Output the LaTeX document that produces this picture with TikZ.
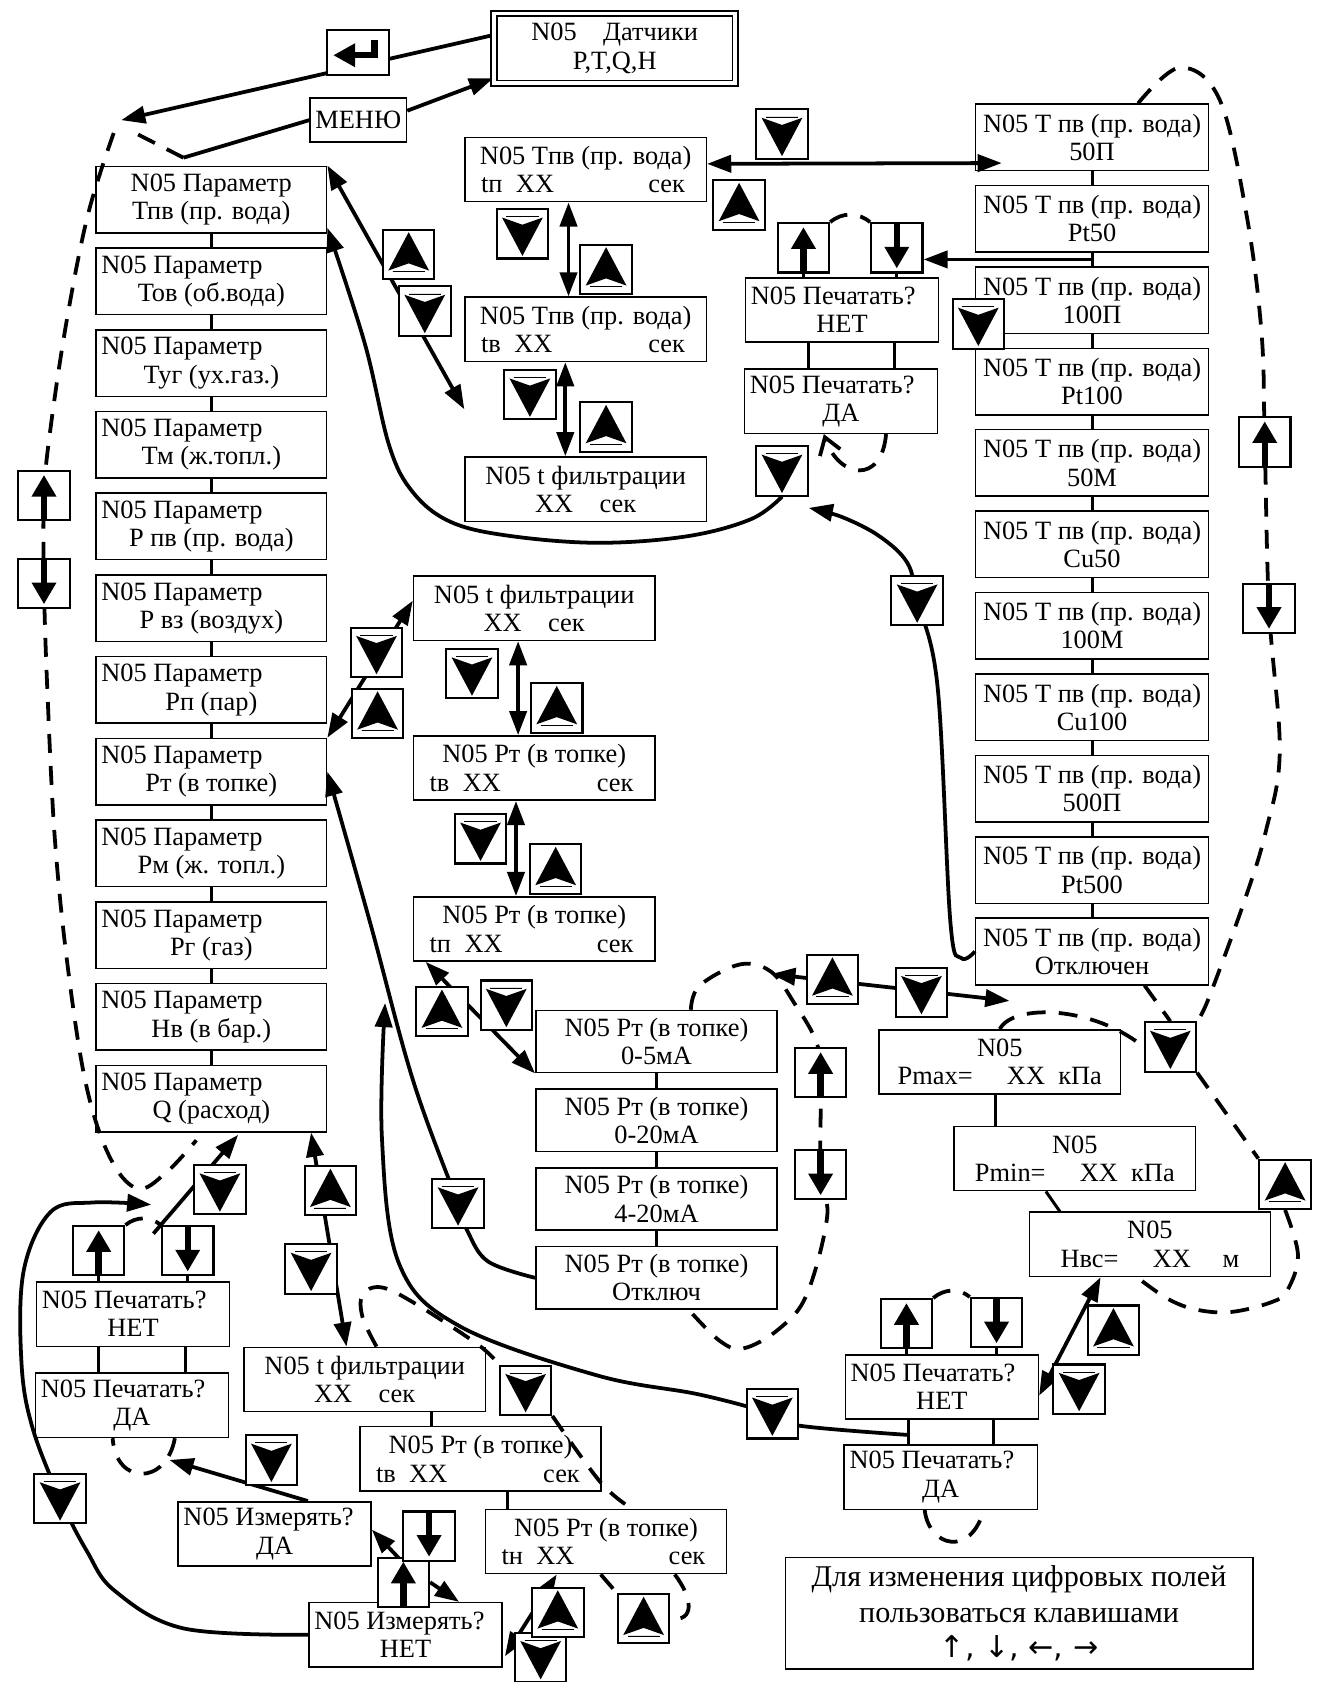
\documentclass[tikz,border=0pt]{standalone}
\usepackage{fontspec}
\setmainfont{Liberation Serif}
\newfontfamily\symfont{DejaVu Sans}
\usetikzlibrary{arrows.meta,backgrounds,calc}

\newcommand\scrfont{\fontsize{14}{15}\selectfont}
\newcommand\parline[1]{\makebox[4.1cm][l]{N05 Параметр}\\#1}
\newcommand\secline[1]{\makebox[4.3cm]{\hspace*{0.2cm}#1\hspace{0.25cm}XX\hfill сек\hspace*{0.3cm}}}
\newcommand\askline[2]{\makebox[3.4cm][l]{N05 #1}\\#2}

\tikzset{
  scrn/.style={draw, line width=0.8pt, align=center, font=\scrfont, inner xsep=0.1cm, inner ysep=2pt},
  sbox/.style={scrn, minimum width=4.5cm, minimum height=1.2cm},
  pbox/.style={scrn, minimum width=4.3cm, minimum height=1.24cm},
  tbox/.style={scrn, minimum width=4.34cm, minimum height=1.24cm},
  prn/.style={scrn, minimum width=3.6cm, minimum height=1.2cm},
  kbox/.style={draw, line width=1.1pt, fill=white, minimum width=0.96cm, minimum height=0.92cm, inner sep=0pt},
  glyph/.style={shift={(path picture bounding box.center)}, draw=black, fill=black},
  kdn/.style={kbox, path picture={
      \fill[glyph] (-0.34cm,0.27cm) -- (0cm,0.15cm) -- (0.34cm,0.27cm) -- (0cm,-0.37cm) -- cycle;
      \draw[glyph, line width=0.4pt] (-0.3cm,0.32cm) -- (0.3cm,0.32cm);}},
  kup/.style={kbox, path picture={
      \fill[glyph] (-0.34cm,-0.27cm) -- (0cm,-0.15cm) -- (0.34cm,-0.27cm) -- (0cm,0.37cm) -- cycle;
      \draw[glyph, line width=0.4pt] (-0.3cm,-0.32cm) -- (0.3cm,-0.32cm);}},
  kua/.style={kbox, path picture={
      \draw[glyph, line width=3.4pt] (0cm,-0.5cm) -- (0cm,0cm);
      \fill[glyph] (-0.2cm,0cm) -- (0.2cm,0cm) -- (0cm,0.34cm) -- cycle;}},
  kda/.style={kbox, path picture={
      \draw[glyph, line width=3.4pt] (0cm,0.5cm) -- (0cm,0cm);
      \fill[glyph] (-0.2cm,0cm) -- (0.2cm,0cm) -- (0cm,-0.34cm) -- cycle;}},
  kent/.style={kbox, minimum width=1.16cm, minimum height=0.84cm, path picture={
      \draw[glyph, fill=none, line width=3.4pt] (0.3cm,0.24cm) -- (0.3cm,-0.05cm) -- (-0.1cm,-0.05cm);
      \fill[glyph] (-0.08cm,0.14cm) -- (-0.08cm,-0.24cm) -- (-0.42cm,-0.05cm) -- cycle;}},
  conn/.style={line width=2pt},
  arr/.style={conn, -{Triangle[length=4.5mm,width=3.2mm]}},
  darr/.style={conn, {Triangle[length=4.5mm,width=3.2mm]}-{Triangle[length=4.5mm,width=3.2mm]}},
  stub/.style={line width=1.6pt},
  dloop/.style={line width=2pt, dash pattern=on 10pt off 7pt}
}

\begin{document}
\begin{tikzpicture}[x=0.02cm, y=-0.02cm]
\useasboundingbox (0,0) rectangle (1233,1568);

\node[scrn, double, double distance=2pt, line width=0.9pt, minimum width=4.5cm, minimum height=1.3cm] (dat) at (573,45) {N05\quad Датчики\\P,T,Q,H};
\node[scrn, minimum width=1.76cm, minimum height=0.82cm] (menu) at (334,112) {МЕНЮ};
\node[kent] (ret) at (334,49) {};

\node[pbox] (p1) at (197,186) {N05 Параметр\\Тпв (пр. вода)};
\foreach \txt [count=\i from 2] in {{Тов (об.вода)},{Туг (ух.газ.)},{Тм (ж.топл.)},{Р пв (пр. вода)},{Р вз (воздух)},{Рп (пар)},{Рт (в топке)},{Рм (ж. топл.)},{Рг (газ)},{Нв (в бар.)},{Q (расход)}}
  \node[pbox] (p\i) at (197,{186+76.2*(\i-1)}) {\parline{\txt}};

\foreach \txt [count=\i] in {50П,Pt50,100П,Pt100,50М,Cu50,100М,Cu100,500П,Pt500,Отключен}
  \node[tbox] (t\i) at (1018,{128+75.9*(\i-1)}) {N05 Т пв (пр. вода)\\\txt};

\foreach \txt [count=\i] in {0-5мА,0-20мА,4-20мА,Отключ}
  \node[sbox, minimum height=1.16cm] (r\i) at (612,{971+73.4*(\i-1)}) {N05 Рт (в топке)\\\txt};

\node[sbox] (tA) at (546,158) {N05 Tпв (пр. вода)\\\secline{tп}};
\node[sbox] (tB) at (546,307) {N05 Tпв (пр. вода)\\\secline{tв}};
\node[sbox] (tF) at (546,456) {N05 t фильтрации\\XX\quad сек};
\node[sbox] (pF) at (498,567) {N05 t фильтрации\\XX\quad сек};
\node[sbox] (pB) at (498,716) {N05 Рт (в топке)\\\secline{tв}};
\node[sbox] (pA) at (498,866) {N05 Рт (в топке)\\\secline{tп}};
\node[sbox] (bF) at (340,1286) {N05 t фильтрации\\XX\quad сек};
\node[sbox] (bB) at (448,1360) {N05 Рт (в топке)\\\secline{tв}};
\node[sbox] (bA) at (565,1437) {N05 Рт (в топке)\\\secline{tн}};

\node[sbox] (pmax) at (932,990) {N05\\Pmax=\hspace{1.3em}XX\enspace кПа};
\node[sbox] (pmin) at (1002,1080) {N05\\Pmin=\hspace{1.3em}XX\enspace кПа};
\node[sbox] (hvc) at (1072,1160) {N05\\Нвс=\hspace{1.3em}XX\hspace{1.2em}м};

\node[prn] (pn1) at (785,289) {\askline{Печатать?}{НЕТ}};
\node[prn] (pd1) at (784,374) {\askline{Печатать?}{ДА}};
\node[prn] (pn2) at (124,1225) {\askline{Печатать?}{НЕТ}};
\node[prn] (pd2) at (123,1310) {\askline{Печатать?}{ДА}};
\node[prn] (pn3) at (878,1293) {\askline{Печатать?}{НЕТ}};
\node[prn] (pd3) at (877,1377) {\askline{Печатать?}{ДА}};
\node[prn] (im1) at (256,1430) {\askline{Измерять?}{ДА}};
\node[prn] (im2) at (378,1524) {\askline{Измерять?}{НЕТ}};

\node[scrn, minimum width=8.72cm, minimum height=2.08cm, font={\fontsize{16}{19}\selectfont}] (note) at (950,1504)
  {Для изменения цифровых полей\\пользоваться клавишами\\{\symfont ↑, ↓, ←, →}};

\foreach \nm/\x/\y in {kT1/729/125, kT3/487/218, kT5/494/368, kT8/396/290, kT9/912/302, kT10/729/439, kT11/855/560,
    kP1/351/608, kP3/440/628, kP5/448/782, kP8/472/937, kP10/859/925, kP11/1091/976, kP14/1006/1295, kP15/720/1318,
    kP16/427/1122, kB2/290/1183, kB3/205/1109, kB4/56/1397, kB5/253/1361, kB6/490/1296, kB9/504/1545}
  \node[kdn] (\nm) at (\x,\y) {};
\foreach \nm/\x/\y in {kT2/689/191, kT4/565/251, kT6/565/398, kT7/381/237, kP2/352/665, kP4/519/660, kP6/518/810,
    kP7/412/943, kP9/776/913, kP12/1198/1104, kP13/1038/1240, kB1/308/1110, kB7/520/1503, kB8/600/1509}
  \node[kup] (\nm) at (\x,\y) {};
\foreach \nm/\x/\y in {kTu/749/231, kRu/1179/412, kPu/765/1000, kPu2/845/1234, kBu/92/1166, kBu2/376/1475, kLu/41/462}
  \node[kua] (\nm) at (\x,\y) {};
\foreach \nm/\x/\y in {kTd/836/231, kRd/1183/567, kPd/765/1095, kPd2/929/1233, kBd/175/1166, kBd2/400/1432, kLd/41/544}
  \node[kda] (\nm) at (\x,\y) {};

\coordinate (apex) at (113,112);
\coordinate (mn) at (171,147);
\coordinate (g23) at ($(t2.south)!0.5!(t3.north)$);
\coordinate (jA) at (359,935);
\coordinate (jb1) at (141,1123);
\coordinate (jb2) at (143,1150);
\coordinate (jb3) at ([shift={(-31,14)}]pn3.south);
\coordinate (lq) at (719,908);
\coordinate (rq) at (941,933);
\coordinate (uq) at (158,1361);

\begin{pgfonlayer}{background}
\fill[white] (0,0) rectangle (1233,1568);
\draw[arr] ([yshift=7pt]dat.west) -- (apex);
\draw[conn] (mn) -- (menu.west);
\draw[arr] ([yshift=5pt]menu.east) -- ([yshift=3pt]dat.south west);
\draw[dloop] (mn) -- (126,124);
\draw[dloop] plot[smooth, tension=0.6] coordinates {(106,124) (82,200) (62,300) (47,400) (kLu.center) (kLd.center)
  (44,640) (51,780) (63,900) (80,1010) (102,1078) (128,1108) (155,1093) (183,1063)};

\foreach \i [count=\j from 2] in {1,...,11} \draw[stub] (p\i.south) -- (p\j.north);
\foreach \i [count=\j from 2] in {1,...,10} \draw[stub] (t\i.south) -- (t\j.north);
\foreach \i [count=\j from 2] in {1,2,3} \draw[stub] (r\i.south) -- (r\j.north);

% T branch
\draw[darr] (p1.north east) -- ($(tB.south west)!0.5!(tF.north west)$);
\draw[darr] ([yshift=3pt]tA.east) -- ([shift={(25,24)}]t1.west);
\draw[darr] ([shift={(-16,0)}]tA.south) -- ([shift={(-16,0)}]tB.north);
\draw[darr] ([shift={(-19,0)}]tB.south) -- ([shift={(-19,0)}]tF.north);
\draw[arr] plot[smooth, tension=0.6] coordinates {(kT10.south) (700,484) (640,500) (556,506) (471,499) (419,486)
  (385,459) (363,416) (340,320) ([yshift=3pt]p1.south east)};
\draw[arr] plot[smooth, tension=0.6] coordinates {(t11.west) (896,893) (886,860) (874,640) (kT11.center)
  (846,525) (820,500) (785,482) ([yshift=-6pt]kT10.south east)};
\draw[arr] (g23) -- (kTd.east |- g23);
\draw[stub] (kTu.south) -- (kTu.south |- pn1.north);
\draw[stub] (kTd.south) -- (kTd.south |- pn1.north);
\draw[stub] ([shift={(-31,0)}]pn1.south) -- ([shift={(-30,0)}]pd1.north);
\draw[stub] ([shift={(49,0)}]pn1.south) -- ([shift={(50,0)}]pd1.north);
\draw[dloop] (kTu.north east) to[out=40,in=140] (kTd.north west);
\draw[dloop, -{Straight Barb[length=3mm,width=4mm]}] ([shift={(42,0)}]pd1.south) .. controls (822,452) and (782,446) .. ([shift={(-16,0)}]pd1.south);
\draw[dloop] plot[smooth, tension=0.6] coordinates {([shift={(43,0)}]t1.north) (1100,63) (1137,93) (1162,200) (1176,310)
  (kRu.center) (kRd.center) (1193,700) (1180,775) (1160,840) (1127,930) (kP11.north east)};
\draw[dloop] ([shift={(49,0)}]t11.south) -- (kP11.north);

% P branch
\draw[darr] (p8.north east) -- ([yshift=4pt]pF.west);
\draw[darr] ([shift={(-15,0)}]pF.south) -- ([shift={(-15,0)}]pB.north);
\draw[darr] ([shift={(-17,0)}]pB.south) -- ([shift={(-17,0)}]pA.north);
\draw[darr] ([shift={(12,0)}]pA.south west) -- (r1.south west);
\draw[arr] plot[smooth, tension=0.6] coordinates {(r4.west) (455,1176) (436,1148) (kP16.center) (385,1007) (345,860) (p8.east)};
\draw[arr] plot[smooth, tension=0.6] coordinates {(jb3) (745,1329) (kP15.center) (652,1300) (556,1282) (428,1236)
  (372,1178) (356,1060) (jA)};
\draw[dloop] plot[smooth, tension=0.6] coordinates {([shift={(32,0)}]r1.north) (652,919) (690,899) (719,906) (741,936)
  (760,969) (kPu.center) (kPd.center) (771,1135) (752,1207) (726,1239) (693,1257) (671,1250) ([shift={(30,0)}]r4.south)};
\draw[darr] (lq) -- (rq);
\draw[dloop] (pmax.north) .. controls (945,935) and (1020,938) .. (kP11.west);
\draw[dloop] (kP11.south east) -- (kP12.north west);
\draw[dloop] plot[smooth, tension=0.6] coordinates {(kP12.south) (1210,1170) (1200,1203) (1185,1214) (1148,1223)
  (1116,1221) (1089,1211) ([shift={(-12,0)}]hvc.south)};
\draw[stub] ([shift={(-4,0)}]pmax.south) -- ([shift={(-74,0)}]pmin.north);
\draw[stub] ([shift={(-27,0)}]pmin.south) -- ([shift={(-84,0)}]hvc.north);
\draw[darr] ([shift={(0,8)}]pn3.east) -- ([shift={(-46,0)}]hvc.south);
\draw[stub] (kPu2.south) -- (kPu2.south |- pn3.north);
\draw[stub] (kPd2.south) -- (kPd2.south |- pn3.north);
\draw[stub] ([shift={(-31,0)}]pn3.south) -- ([shift={(-30,0)}]pd3.north);
\draw[stub] ([shift={(48,0)}]pn3.south) -- ([shift={(49,0)}]pd3.north);
\draw[dloop] (kPu2.north east) to[out=40,in=140] (kPd2.north west);
\draw[dloop] ([shift={(-15,0)}]pd3.south) .. controls (866,1442) and (905,1452) .. ([shift={(40,0)}]pd3.south);

% bottom branch
\draw[darr] ([shift={(93,0)}]p12.south) -- ([shift={(-17,0)}]bF.north);
\draw[stub] ([shift={(62,0)}]bF.south) -- ([shift={(-46,0)}]bB.north);
\draw[stub] ([shift={(25,0)}]bB.south) -- ([shift={(-92,0)}]bA.north);
\draw[dloop] plot[smooth, tension=0.6] coordinates {([shift={(11,0)}]bF.north) (338,1228) (338,1207) (355,1200)
  (385,1214) (445,1253) (kB6.north west)};
\draw[dloop] plot[smooth, tension=0.6] coordinates {(kB6.south east) (560,1382) ([shift={(24,0)}]bA.north)};
\draw[dloop] ([shift={(-5,0)}]bA.south) -- (kB8.north west);
\draw[dloop] ([shift={(64,0)}]bA.south) .. controls (646,1490) and (648,1512) .. (kB8.east);
\draw[darr] ([shift={(-46,0)}]bA.south) -- ([shift={(2,20)}]im2.east);
\draw[arr] (kBd2.south west) -- ([shift={(0,-4)}]im1.east);
\draw[arr] (kBu2.east) -- ([shift={(50,0)}]im2.north);
\draw[arr] ([shift={(31,0)}]im1.north) -- (uq);
\draw[dloop] ([shift={(40,0)}]pd2.south) .. controls (155,1385) and (108,1385) .. ([shift={(-18,0)}]pd2.south);
\draw[arr] plot[smooth, tension=0.6] coordinates {(im2.west) (171,1518) (107,1483) (81,1446) (kB4.center) (30,1330)
  (20,1270) (22,1185) (47,1130) (86,1121) (jb1)};
\draw[arr] (jb2) -- ([shift={(25,2)}]p12.south);
\draw[dloop] (kBu.north east) to[out=40,in=140] (kBd.north west);
\draw[stub] (kBu.south) -- (kBu.south |- pn2.north);
\draw[stub] (kBd.south) -- (kBd.south |- pn2.north);
\draw[stub] ([shift={(-32,0)}]pn2.south) -- ([shift={(-31,0)}]pd2.north);
\draw[stub] ([shift={(49,0)}]pn2.south) -- ([shift={(50,0)}]pd2.north);
\end{pgfonlayer}
\end{tikzpicture}
\end{document}
